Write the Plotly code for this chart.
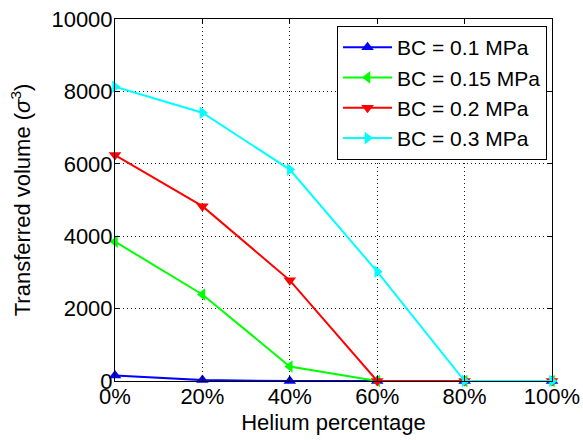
import plotly.graph_objects as go

# Helium percentage on the x axis
helium_pct = [0, 20, 40, 60, 80, 100]
tick_labels = ["0%", "20%", "40%", "60%", "80%", "100%"]

# Transferred volume (sigma^3) for each boundary condition
vol_bc_01 = [150, 25, 0, 0, 0, 0]
vol_bc_015 = [3850, 2390, 400, 0, 0, 0]
vol_bc_02 = [6240, 4830, 2780, 0, 0, 0]
vol_bc_03 = [8130, 7410, 5840, 3020, 0, 0]

series = [
    ("BC = 0.1 MPa", vol_bc_01, "#0000FF", "triangle-up"),
    ("BC = 0.15 MPa", vol_bc_015, "#00FF00", "triangle-left"),
    ("BC = 0.2 MPa", vol_bc_02, "#FF0000", "triangle-down"),
    ("BC = 0.3 MPa", vol_bc_03, "#00FFFF", "triangle-right"),
]

FONT = "Liberation Sans, Arial, Helvetica, sans-serif"

fig = go.Figure()
for name, vals, color, sym in series:
    fig.add_trace(go.Scatter(
        x=helium_pct, y=vals, name=name, mode="lines+markers",
        line=dict(color=color, width=2),
        marker=dict(symbol=sym, size=11, color=color, line=dict(width=0)),
        cliponaxis=False,
    ))

axis_common = dict(
    showline=True, linecolor="black", linewidth=1, mirror="ticks",
    ticks="inside", ticklen=5, tickcolor="black", tickwidth=1,
    showgrid=True, gridcolor="#222222", gridwidth=1, griddash="1px,3px",
    zeroline=False,
    tickfont=dict(family=FONT, size=22, color="black"),
)

fig.update_xaxes(
    range=[0, 100], tickmode="array", tickvals=helium_pct, ticktext=tick_labels,
    ticklabelstandoff=-4,
    title=dict(text="Helium percentage", font=dict(family=FONT, size=22, color="black"), standoff=6),
    **axis_common,
)
fig.update_yaxes(
    range=[0, 10000], dtick=2000, tick0=0, tickformat="d",
    ticklabelstandoff=-3,
    title=dict(text="Transferred volume (<i>σ</i><sup>3</sup>)",
               font=dict(family=FONT, size=22, color="black"), standoff=14),
    **axis_common,
)

fig.update_layout(
    width=583, height=440,
    margin=dict(l=115, r=31, t=19, b=59, autoexpand=False),
    paper_bgcolor="white", plot_bgcolor="white",
    font=dict(family=FONT, size=22, color="black"),
    legend=dict(
        x=0.9886, y=0.9807, xanchor="right", yanchor="top",
        bgcolor="white", bordercolor="black", borderwidth=1,
        font=dict(family=FONT, size=21, color="black"),
        itemwidth=49,
    ),
    showlegend=True,
)

fig.write_html("out.html")
